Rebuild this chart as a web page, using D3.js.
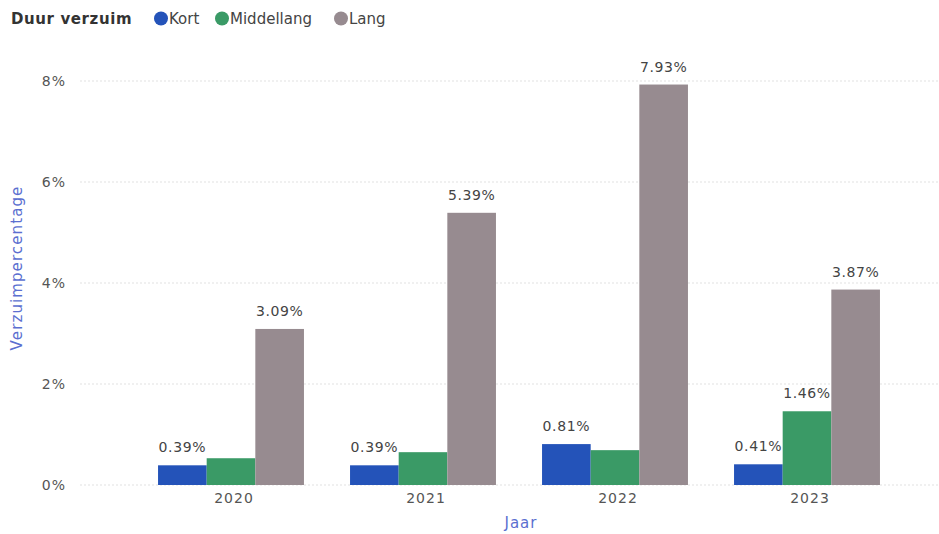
<!DOCTYPE html>
<html><head><meta charset="utf-8">
<script src="https://cdn.jsdelivr.net/npm/d3@7"></script>
<style>
body{margin:0;background:#fff;}
text{font-family:"DejaVu Sans",Verdana,sans-serif;}
</style></head>
<body><svg id="c" width="939" height="534"></svg>
<script>
const years = ["2020","2021","2022","2023"];
const seriesNames = ["Kort","Middellang","Lang"];
const kort = [0.39,0.39,0.81,0.41];
const middellang = [0.53,0.65,0.69,1.46];
const lang = [3.09,5.39,7.93,3.87];
const showLabel = [[true,true,true,true],[false,false,false,true],[true,true,true,true]];
const yTicks = [0,2,4,6,8];
const colors = ["#2453b9","#3a9a66","#978b90"];

const values = [kort, middellang, lang];
const svg = d3.select("#c");
const W = 939, H = 534;
const x0 = d3.scaleBand().domain(years).range([135,903]).paddingInner(0.24).paddingOuter(0.12);
const x1 = d3.scaleBand().domain(seriesNames).range([0,x0.bandwidth()]);
const y = d3.scaleLinear().domain([0,8]).range([485,81]);

// gridlines
svg.append("g").selectAll("line").data(yTicks).join("line")
  .attr("x1",80).attr("x2",W).attr("y1",d=>y(d)).attr("y2",d=>y(d))
  .attr("stroke","#ebebeb").attr("stroke-width",1.5).attr("stroke-dasharray","2,2");

// y axis
const yAxis = svg.append("g").attr("transform","translate(66,0)")
  .call(d3.axisLeft(y).tickValues(yTicks).tickFormat(d=>d+"%").tickSize(0).tickPadding(0));
yAxis.select(".domain").remove();
yAxis.selectAll("text").attr("font-size",14).attr("fill","#555").attr("letter-spacing","1px")
  .attr("font-family","DejaVu Sans, sans-serif");

// x axis
const xAxis = svg.append("g").attr("transform","translate(3,493)")
  .call(d3.axisBottom(x0).tickSize(0).tickPadding(0));
xAxis.select(".domain").remove();
xAxis.selectAll("text").attr("font-size",14).attr("fill","#555").attr("letter-spacing","1px")
  .attr("font-family","DejaVu Sans, sans-serif");

// bars
const rows = years.map((yr,i)=>({year:yr, vals:seriesNames.map((s,j)=>({s, j, v:values[j][i], show:showLabel[j][i]}))}));
const grp = svg.append("g").selectAll("g").data(rows).join("g")
  .attr("transform",d=>`translate(${x0(d.year)},0)`);
grp.selectAll("rect").data(d=>d.vals).join("rect")
  .attr("x",d=>x1(d.s)).attr("width",x1.bandwidth())
  .attr("y",d=>y(d.v)).attr("height",d=>y(0)-y(d.v))
  .attr("fill",d=>colors[d.j]);
grp.selectAll("text").data(d=>d.vals.filter(v=>v.show)).join("text")
  .attr("x",d=>x1(d.s)+x1.bandwidth()/2).attr("y",d=>y(d.v)-13)
  .attr("text-anchor","middle").attr("font-size",14).attr("fill","#444").attr("letter-spacing","0.6px")
  .text(d=>d.v.toFixed(2)+"%");

// axis titles
svg.append("text").attr("transform","translate(22,268) rotate(-90)").attr("text-anchor","middle")
  .attr("font-size",15).attr("letter-spacing","1.1px").attr("fill","#5b6fd0").text("Verzuimpercentage");
svg.append("text").attr("x",521).attr("y",528).attr("text-anchor","middle")
  .attr("font-size",15).attr("letter-spacing","1px").attr("fill","#5b6fd0").text("Jaar");

// legend
const lg = svg.append("g");
lg.append("text").attr("x",11).attr("y",24).attr("font-size",15).attr("letter-spacing","0.6px").attr("font-weight","bold").attr("fill","#333").text("Duur verzuim");
const legX = [161,222,341];
seriesNames.forEach((s,i)=>{
  lg.append("circle").attr("cx",legX[i]).attr("cy",18.5).attr("r",7).attr("fill",colors[i]);
  lg.append("text").attr("x",legX[i]+8).attr("y",24).attr("font-size",15).attr("fill","#444").text(s);
});
</script></body></html>
